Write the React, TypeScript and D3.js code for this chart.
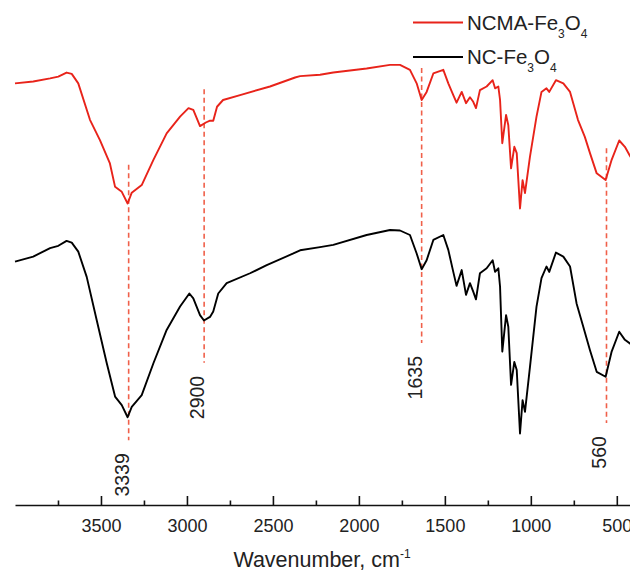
import { useEffect, useRef } from 'react';
import * as d3 from 'd3';

// NCMA-Fe3O4 (red) spectrum
const ncmaWn = [4000, 3894, 3796, 3748, 3700, 3670, 3632, 3564, 3506, 3448, 3418, 3379, 3345, 3321, 3263, 3195, 3118, 3040, 2991, 2963, 2924, 2890, 2866, 2847, 2825, 2790, 2691, 2517, 2371, 2342, 2226, 2149, 1955, 1819, 1761, 1703, 1664, 1635, 1606, 1567, 1509, 1480, 1451, 1432, 1402, 1377, 1354, 1335, 1319, 1296, 1257, 1222, 1208, 1189, 1179, 1166, 1144, 1131, 1115, 1096, 1082, 1063, 1048, 1034, 1005, 967, 938, 909, 893, 854, 811, 772, 726, 686, 656, 617, 565, 530, 486, 453, 424, 405];
const ncmaT = [93.7, 94.1, 94.8, 95.2, 96.1, 95.8, 93.7, 85.6, 81.1, 75.9, 70.7, 69.6, 67.0, 69.4, 71.1, 76.7, 82.6, 86.3, 88.2, 87.8, 84.2, 85.0, 85.4, 85.4, 88.5, 90.0, 91.1, 93.0, 95.0, 95.3, 95.6, 96.1, 97.0, 97.8, 97.8, 96.7, 93.7, 90.0, 91.8, 95.9, 96.7, 93.7, 91.1, 89.4, 91.8, 89.3, 90.6, 89.6, 88.2, 92.2, 93.0, 94.4, 92.6, 93.0, 90.0, 80.4, 86.7, 84.4, 74.8, 79.6, 78.2, 65.9, 72.2, 69.3, 77.4, 86.3, 91.8, 92.6, 91.8, 94.4, 93.7, 91.8, 85.6, 81.8, 78.2, 73.7, 72.2, 76.7, 81.0, 79.6, 77.6, 76.5];

// NC-Fe3O4 (black) spectrum
const ncWn = [4000, 3894, 3796, 3748, 3700, 3670, 3632, 3583, 3525, 3467, 3418, 3379, 3345, 3321, 3263, 3195, 3118, 3040, 2986, 2963, 2924, 2901, 2866, 2847, 2818, 2769, 2633, 2536, 2381, 2342, 2226, 2149, 1955, 1819, 1761, 1703, 1664, 1635, 1606, 1567, 1509, 1480, 1451, 1432, 1402, 1377, 1354, 1335, 1319, 1296, 1257, 1222, 1208, 1189, 1179, 1166, 1144, 1131, 1115, 1096, 1082, 1063, 1048, 1034, 1005, 967, 938, 909, 893, 854, 811, 772, 734, 695, 656, 617, 565, 530, 486, 453, 424, 405];
const ncT = [54.1, 55.2, 57.1, 57.6, 58.7, 58.3, 56.3, 50.7, 41.1, 31.6, 24.1, 22.2, 19.5, 21.8, 24.4, 31.5, 38.9, 44.1, 47.0, 45.9, 42.2, 41.0, 41.8, 43.0, 47.0, 49.3, 51.5, 53.3, 55.9, 56.6, 57.3, 57.8, 60.0, 61.1, 61.0, 60.0, 55.9, 52.4, 54.4, 58.9, 60.0, 56.7, 51.8, 48.7, 52.2, 46.7, 49.3, 47.4, 45.7, 51.5, 52.6, 54.4, 51.8, 52.6, 48.5, 34.1, 42.2, 39.6, 26.7, 31.8, 30.0, 15.9, 23.3, 20.7, 30.7, 44.1, 50.4, 53.0, 51.8, 56.1, 55.2, 53.0, 44.8, 39.6, 34.4, 29.6, 28.5, 34.1, 38.5, 36.7, 35.9, 35.4];

// marked peaks: wavenumber, top and bottom of the dashed guide
const peakWn = [3339, 2900, 1635, 560];
const peakTop = [75.6, 92.4, 97.1, 79.3];
const peakBottom = [14.4, 31.6, 36.0, 18.2];

const majorTicks = [3500, 3000, 2500, 2000, 1500, 1000, 500];
const minorTicks = [3750, 3250, 2750, 2250, 1750, 1250, 750];

const W = 630;
const H = 576;
const FONT = '"Liberation Sans", Arial, Helvetica, sans-serif';
const RED = '#e8231a';
const DASH = '#f0604a';

export default function App() {
  const ref = useRef<SVGSVGElement>(null);

  useEffect(() => {
    const svg = d3.select(ref.current);
    svg.selectAll('*').remove();

    const x = d3.scaleLinear().domain([4000, 400]).range([15, 634]);
    const y = d3.scaleLinear().domain([0, 100]).range([505, 55]);
    const axisY = y(0);

    // Eje X, marcas mayores hacia dentro
    const gx = svg.append('g')
      .attr('transform', `translate(0,${axisY})`)
      .call(d3.axisBottom(x).tickValues(majorTicks).tickSizeInner(-9).tickSizeOuter(0).tickPadding(14).tickFormat(d3.format('d')));
    gx.select('.domain').attr('stroke', '#111').attr('stroke-width', 1.6);
    gx.selectAll('.tick line').attr('stroke', '#111').attr('stroke-width', 1.6);
    gx.selectAll('.tick text')
      .attr('font-family', FONT)
      .attr('font-size', 18)
      .attr('fill', '#222');

    // marcas menores
    const gm = svg.append('g')
      .attr('transform', `translate(0,${axisY})`)
      .call(d3.axisBottom(x).tickValues(minorTicks).tickSizeInner(-4.5).tickSizeOuter(0).tickFormat(() => ''));
    gm.select('.domain').remove();
    gm.selectAll('.tick line').attr('stroke', '#111').attr('stroke-width', 1.6);

    // Título del eje
    const title = svg.append('text')
      .attr('x', 322)
      .attr('y', 567)
      .attr('text-anchor', 'middle')
      .attr('font-family', FONT)
      .attr('font-size', 21.5)
      .attr('fill', '#222');
    title.append('tspan').text('Wavenumber, cm');
    title.append('tspan').attr('dy', -9).attr('font-size', 12).text('-1');

    // Líneas discontinuas de los picos
    peakWn.forEach((wn, i) => {
      svg.append('line')
        .attr('x1', x(wn)).attr('x2', x(wn))
        .attr('y1', y(peakTop[i])).attr('y2', y(peakBottom[i]))
        .attr('stroke', DASH)
        .attr('stroke-width', 1.6)
        .attr('stroke-dasharray', '5,3.5');
      svg.append('text')
        .attr('transform', `translate(${x(wn)},${y(peakBottom[i]) + 13}) rotate(-90)`)
        .attr('text-anchor', 'end')
        .attr('font-family', FONT)
        .attr('font-size', 19.5)
        .attr('fill', '#222')
        .text(String(wn));
    });

    // Espectros
    const line = d3.line<[number, number]>().x(d => x(d[0])).y(d => y(d[1]));
    const ncmaPts = ncmaWn.map((w, i) => [w, ncmaT[i]] as [number, number]);
    const ncPts = ncWn.map((w, i) => [w, ncT[i]] as [number, number]);
    svg.append('path')
      .attr('d', line(ncmaPts))
      .attr('fill', 'none')
      .attr('stroke', RED)
      .attr('stroke-width', 1.9)
      .attr('stroke-linejoin', 'round');
    svg.append('path')
      .attr('d', line(ncPts))
      .attr('fill', 'none')
      .attr('stroke', '#000')
      .attr('stroke-width', 1.9)
      .attr('stroke-linejoin', 'round');

    // Leyenda
    const legend = [
      { name: 'NCMA-Fe', color: RED, y: 22.5 },
      { name: 'NC-Fe', color: '#000', y: 57 },
    ];
    legend.forEach(l => {
      svg.append('line')
        .attr('x1', 413).attr('x2', 463)
        .attr('y1', l.y).attr('y2', l.y)
        .attr('stroke', l.color)
        .attr('stroke-width', 1.9);
      const t = svg.append('text')
        .attr('x', 467)
        .attr('y', l.y + 7)
        .attr('font-family', FONT)
        .attr('font-size', 20.5)
        .attr('fill', '#222');
      t.append('tspan').text(l.name);
      t.append('tspan').attr('font-size', 12).attr('dy', 8).text('3');
      t.append('tspan').attr('dy', -8).text('O');
      t.append('tspan').attr('font-size', 12).attr('dy', 8).text('4');
    });
  }, []);

  return (
    <svg
      ref={ref}
      width={W}
      height={H}
      style={{ position: 'absolute', left: 0, top: 0, background: '#fff' }}
    />
  );
}
